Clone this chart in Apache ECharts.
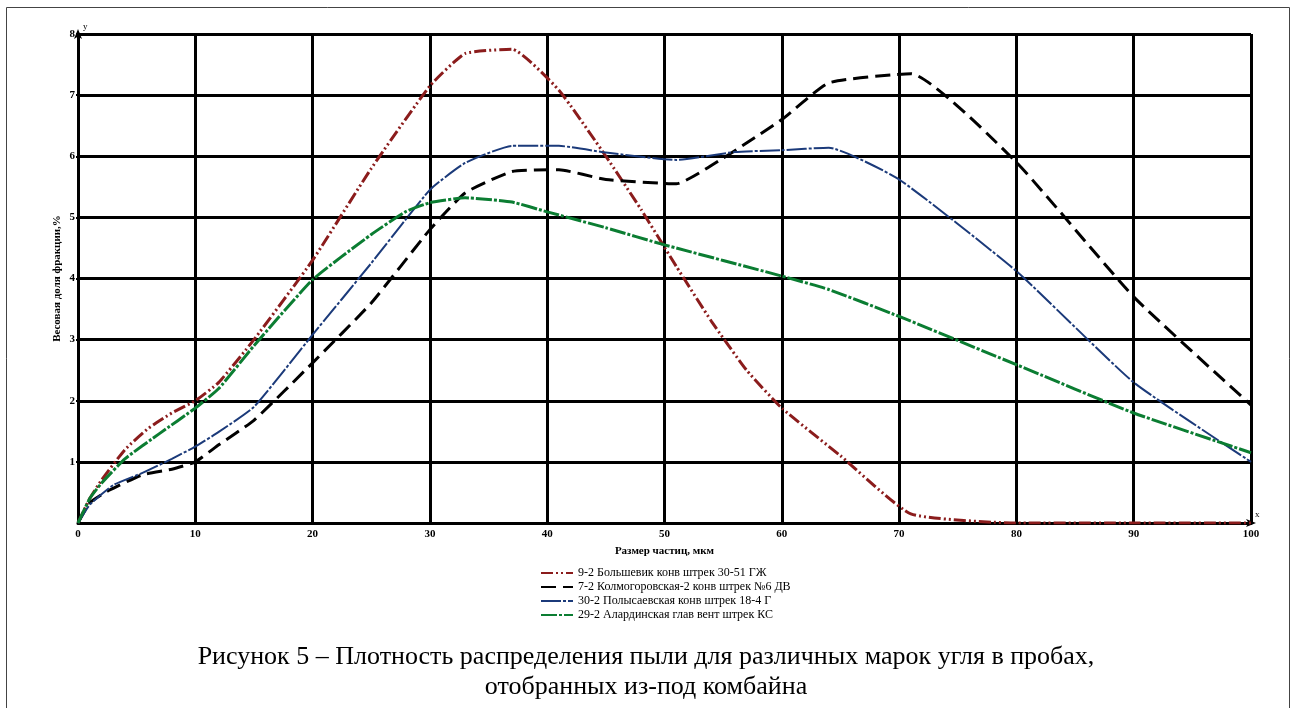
<!DOCTYPE html>
<html>
<head>
<meta charset="utf-8">
<script src="https://cdn.jsdelivr.net/npm/echarts@6/dist/echarts.min.js"></script>
<style>
  html, body { margin: 0; padding: 0; background: #fff; }
  #chart { width: 1293px; height: 708px; }
</style>
</head>
<body>
<div id="chart"></div>
<script>
// Particle size, µm, and weight fraction, %, for each coal sample
const bolshevikX = [0, 1, 2, 4, 6, 8, 10, 12, 15, 20, 25, 30, 33, 37, 41, 45, 48, 51, 54, 57, 60, 65, 71, 80, 90, 100];
const bolshevikY = [0, 0.4, 0.7, 1.2, 1.55, 1.8, 2.0, 2.3, 3.0, 4.3, 5.8, 7.15, 7.68, 7.75, 7.08, 6.0, 5.13, 4.2, 3.3, 2.5, 1.88, 1.1, 0.15, 0, 0, 0];

const kolmogorX = [0, 1, 2.7, 5.5, 8, 10, 12, 15, 20, 25, 30, 33, 37, 41, 45, 51, 55, 60, 64, 71, 80, 90, 100];
const kolmogorY = [0, 0.33, 0.54, 0.79, 0.88, 1.0, 1.28, 1.68, 2.62, 3.6, 4.8, 5.4, 5.75, 5.78, 5.62, 5.55, 5.97, 6.6, 7.2, 7.35, 5.9, 3.7, 1.93];

const polysaevX = [0, 1, 3, 5.5, 8, 10, 12, 15, 20, 25, 30, 33, 37, 41, 45, 51, 56, 60, 64, 70, 80, 90, 100];
const polysaevY = [0, 0.3, 0.62, 0.82, 1.05, 1.25, 1.49, 1.9, 3.08, 4.25, 5.45, 5.89, 6.17, 6.17, 6.06, 5.94, 6.07, 6.1, 6.14, 5.62, 4.12, 2.3, 1.0];

const alardinX = [0, 1, 2, 4, 7, 10, 12, 15, 20, 25, 28, 30, 33, 37, 40, 45, 50, 60, 64, 70, 80, 90, 100];
const alardinY = [0, 0.4, 0.65, 1.05, 1.47, 1.88, 2.2, 2.9, 3.98, 4.72, 5.1, 5.24, 5.32, 5.25, 5.09, 4.83, 4.55, 4.04, 3.82, 3.38, 2.59, 1.8, 1.15];

const seriesNames = [
  '9-2 Большевик конв штрек 30-51 ГЖ',
  '7-2 Колмогоровская-2 конв штрек №6 ДВ',
  '30-2 Полысаевская конв штрек 18-4 Г',
  '29-2 Алардинская глав вент штрек КС'
];

const xTitle = 'Размер частиц, мкм';
const yTitle = 'Весовая доля фракции,%';
const caption1 = 'Рисунок 5 – Плотность распределения пыли для различных марок угля в пробах,';
const caption2 = 'отобранных из-под комбайна';

const pairs = (xs, ys) => xs.map((x, i) => [x, ys[i]]);

const serif = 'Liberation Serif';

const styles = [
  { color: '#8b1c1c', width: 3, type: [12, 3, 2, 3, 2, 3] },
  { color: '#000000', width: 3, type: [15, 7] },
  { color: '#1b3a7a', width: 2, type: [20, 2, 3, 2] },
  { color: '#0b7d32', width: 3, type: [16, 2, 3, 2] }
];

const datasets = [
  pairs(bolshevikX, bolshevikY),
  pairs(kolmogorX, kolmogorY),
  pairs(polysaevX, polysaevY),
  pairs(alardinX, alardinY)
];

const chart = echarts.init(document.getElementById('chart'), null, { renderer: 'canvas' });

chart.setOption({
  backgroundColor: '#ffffff',
  animation: false,
  grid: { left: 78, right: 42, top: 34, bottom: 185, containLabel: false },
  legend: {
    orient: 'vertical',
    left: 535,
    top: 562,
    itemWidth: 32,
    itemHeight: 13,
    itemGap: 2,
    itemStyle: { opacity: 0 },
    textStyle: { fontFamily: serif, fontSize: 12, color: '#000' },
    data: seriesNames
  },
  xAxis: {
    type: 'value',
    min: 0, max: 100, interval: 10,
    name: xTitle,
    nameLocation: 'middle',
    nameGap: 23,
    nameMoveOverlap: false,
    nameTextStyle: { fontFamily: serif, fontWeight: 'bold', fontSize: 11, color: '#000' },
    axisLine: {
      show: true, onZero: false,
      symbol: ['none', 'arrow'], symbolSize: [6, 10], symbolOffset: [0, 5],
      lineStyle: { color: '#000', width: 3 }
    },
    axisTick: { show: false },
    axisLabel: { fontFamily: serif, fontWeight: 'bold', fontSize: 11, color: '#000', margin: 6 },
    splitLine: { show: true, lineStyle: { color: '#000', width: 3 } }
  },
  yAxis: {
    type: 'value',
    min: 0, max: 8, interval: 1,
    name: yTitle,
    nameLocation: 'middle',
    nameGap: 15,
    nameMoveOverlap: false,
    nameTextStyle: { fontFamily: serif, fontWeight: 'bold', fontSize: 11, color: '#000' },
    axisLine: {
      show: true, onZero: false,
      symbol: ['none', 'arrow'], symbolSize: [6, 10], symbolOffset: [0, 5],
      lineStyle: { color: '#000', width: 3 }
    },
    axisTick: { show: true, length: 2, lineStyle: { color: '#000', width: 2 } },
    axisLabel: { fontFamily: serif, fontWeight: 'bold', fontSize: 11, color: '#000', margin: 3, showMinLabel: false },
    splitLine: { show: true, lineStyle: { color: '#000', width: 3 } }
  },
  series: datasets.map((d, i) => ({
    name: seriesNames[i],
    type: 'line',
    data: d,
    smooth: 0.15,
    symbol: 'none',
    showSymbol: false,
    color: styles[i].color,
    lineStyle: { color: styles[i].color, width: styles[i].width, type: styles[i].type },
    z: 5 + i
  })),
  graphic: [
    {
      type: 'rect', silent: true, z: -1,
      shape: { x: 6.5, y: 7.5, width: 1283, height: 720 },
      style: { fill: 'none', stroke: '#444', lineWidth: 1 }
    },
    {
      type: 'text', left: 83, top: 22,
      style: { text: 'y', font: '9px "Liberation Serif"', fill: '#000' }
    },
    {
      type: 'text', left: 1255, top: 510,
      style: { text: 'x', font: '9px "Liberation Serif"', fill: '#000' }
    },
    {
      type: 'text', x: 646, y: 657,
      style: { text: caption1, font: '26px "Liberation Serif"', fill: '#000', align: 'center', verticalAlign: 'middle' }
    },
    {
      type: 'text', x: 646, y: 687,
      style: { text: caption2, font: '26px "Liberation Serif"', fill: '#000', align: 'center', verticalAlign: 'middle' }
    }
  ]
});
</script>
</body>
</html>
